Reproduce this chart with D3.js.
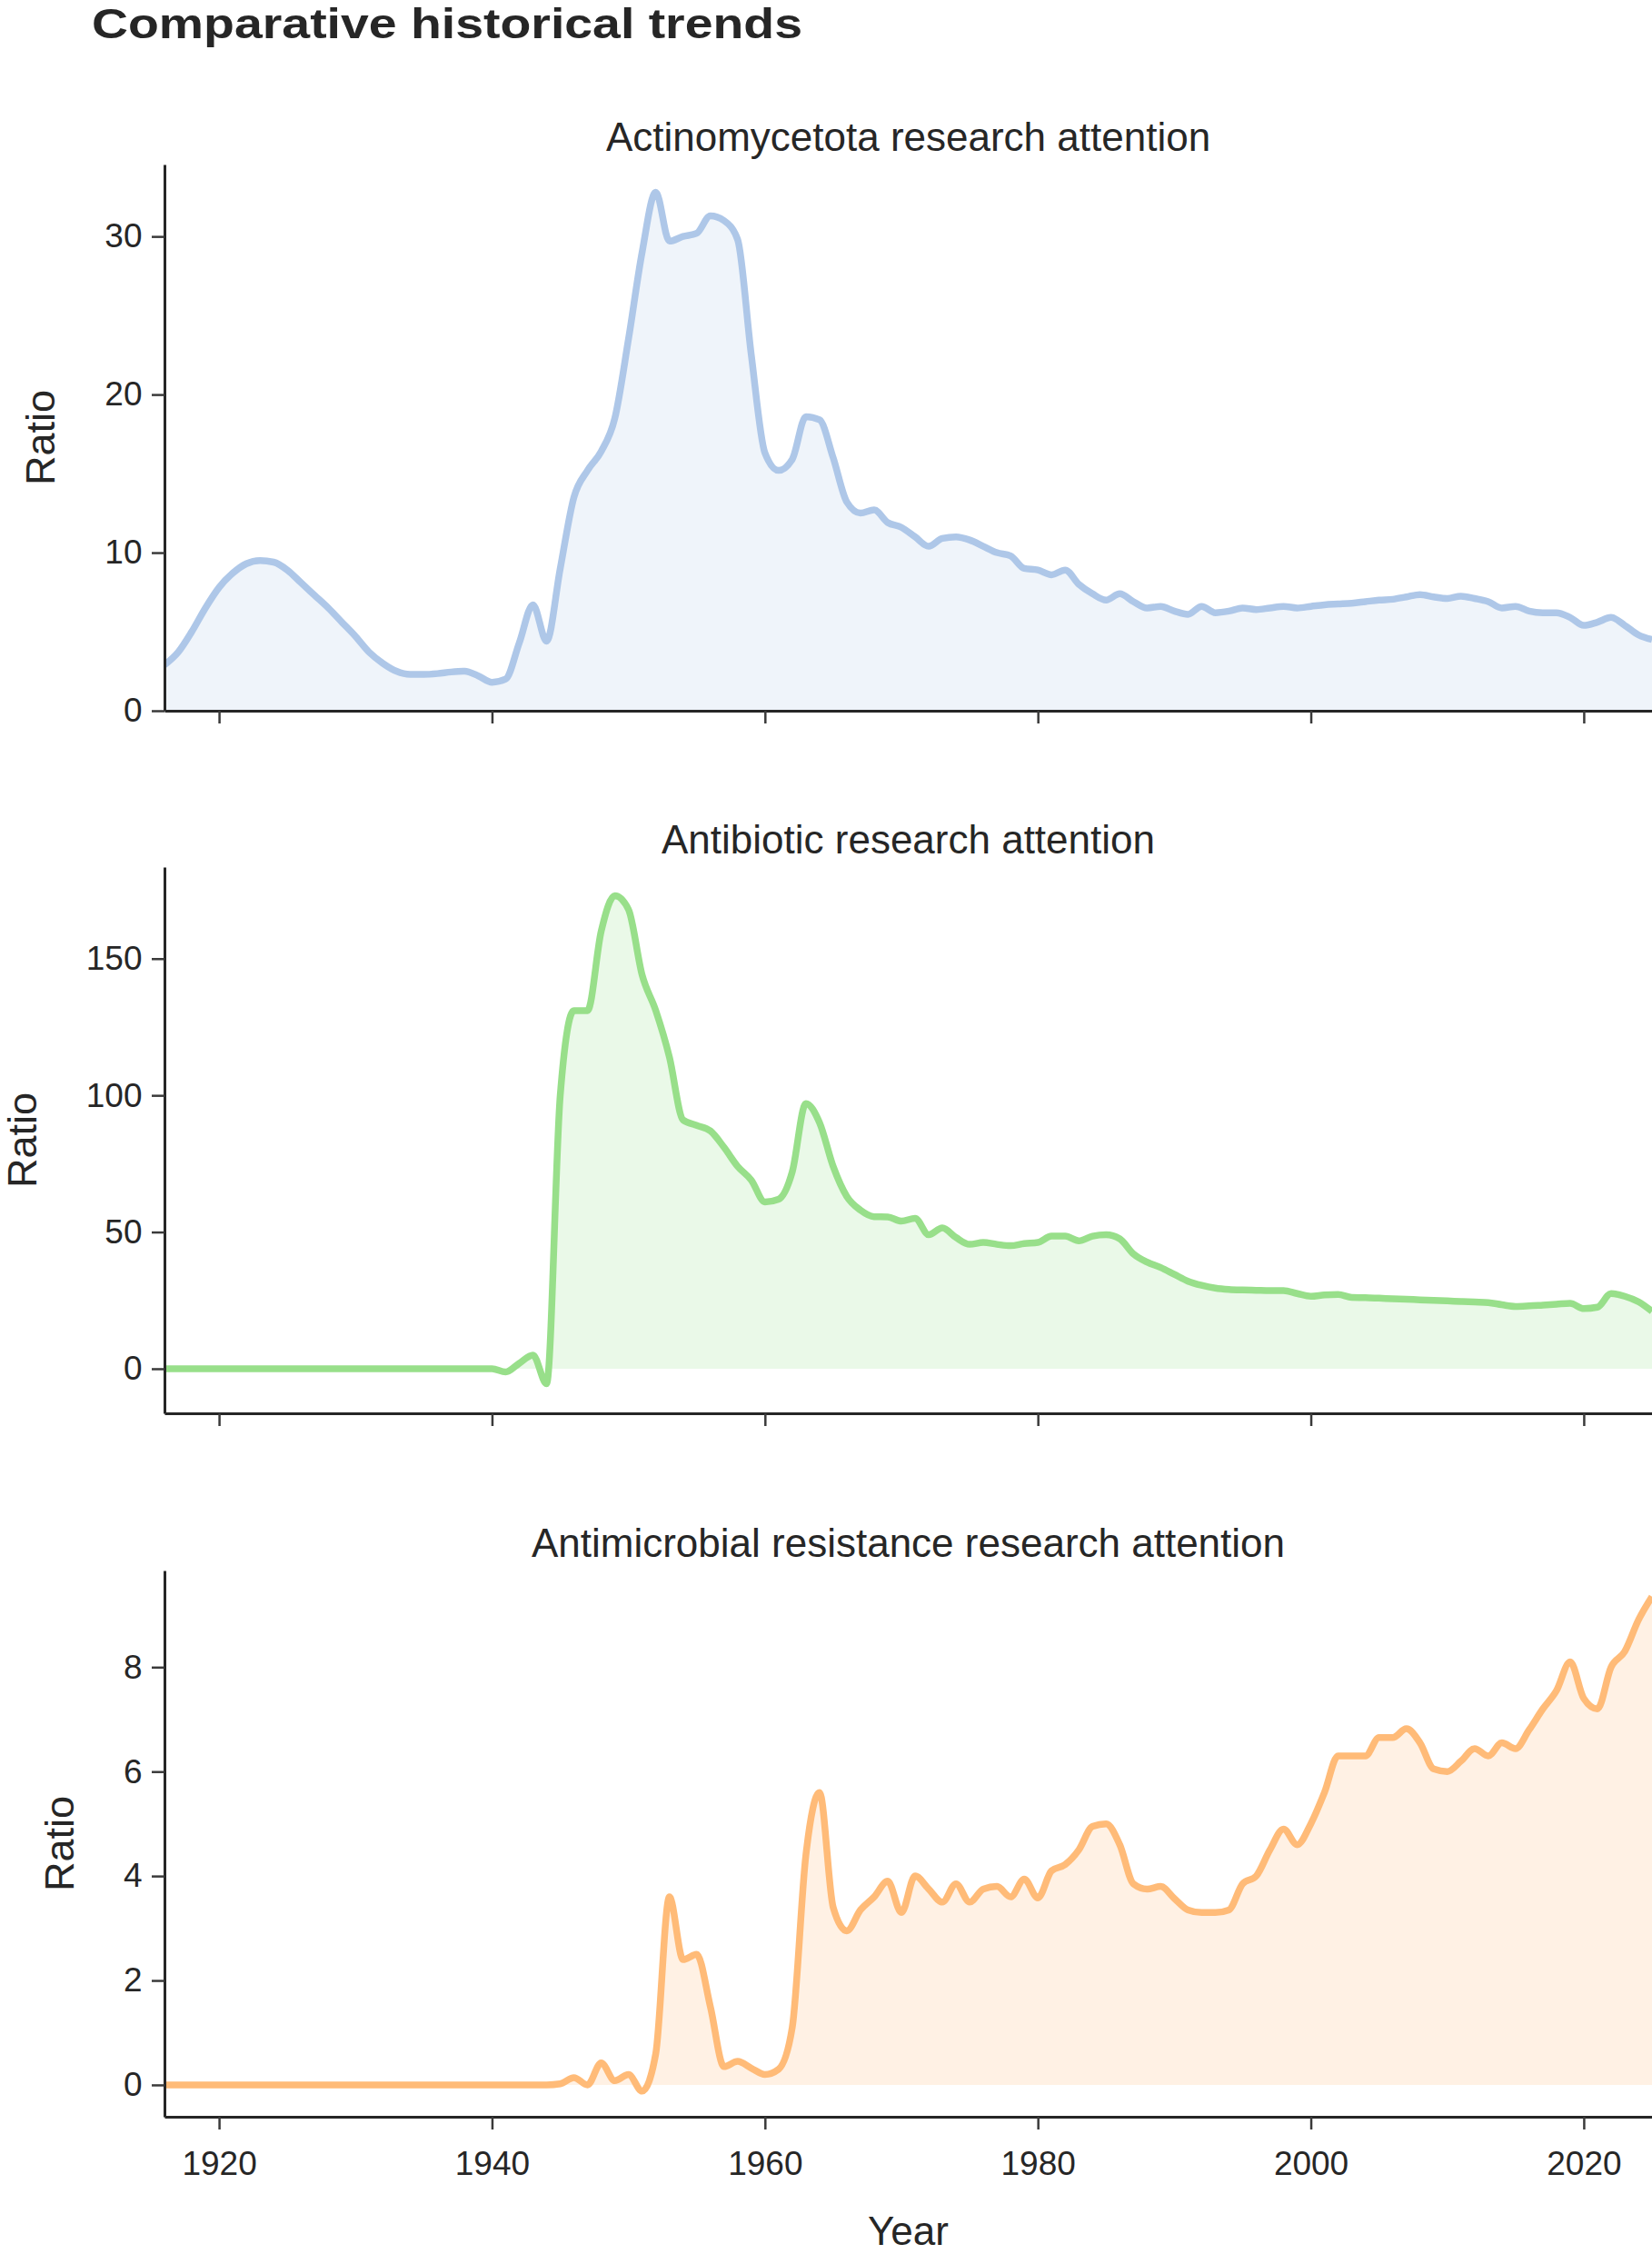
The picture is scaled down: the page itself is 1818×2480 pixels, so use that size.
<!DOCTYPE html>
<html>
<head>
<meta charset="utf-8">
<script src="https://cdn.jsdelivr.net/npm/d3@7"></script>
<style>
    body{margin:0;background:#fff;}
    svg text{font-family:"Liberation Sans",Arial,Helvetica,sans-serif;fill:#262626;}
</style>
</head>
<body>
<svg id="chart" width="1818" height="2480"></svg>
<script>
// ---- data ----
var firstYear=1916, lastYear=2025;
var years=d3.range(firstYear,lastYear+1);

var actinoValues=[
    2.9,3.7,5.0,6.5,
    7.8,8.7,9.3,9.5,9.4,8.9,8.1,7.3,6.5,5.6,
    4.7,3.7,3.0,2.5,2.3,2.3,2.35,2.45,2.5,2.2,
    1.8,2.0,4.3,6.7,4.4,9.0,13.5,15.2,16.4,18.5,
    23.5,29.0,32.8,29.7,30.0,30.2,31.3,31.0,29.8,22.5,
    16.3,15.2,15.9,18.6,18.4,16.0,13.2,12.5,12.7,11.9,
    11.6,11.0,10.4,10.9,11.0,10.8,10.4,10.0,9.8,9.0,
    8.9,8.6,8.9,8.0,7.4,7.0,7.4,6.9,6.5,6.6,
    6.3,6.1,6.6,6.2,6.3,6.5,6.4,6.5,6.6,6.5,
    6.6,6.7,6.75,6.8,6.9,7.0,7.05,7.2,7.35,7.2,
    7.1,7.25,7.1,6.9,6.5,6.6,6.3,6.2,6.2,5.9,
    5.4,5.6,5.9,5.4,4.8,4.5
];
var antibioticValues=[
    0,0,0,0,
    0,0,0,0,0,0,0,0,0,0,
    0,0,0,0,0,0,0,0,0,0,
    0,-1.2,2.0,5.0,-5.5,100,131,131,160,173,
    168,144,131,114,91,89,87,81,74,69,
    61,62,72,97,90,74,63,58,55.6,55.5,
    54,55,49,51.5,48,45.5,46.2,45.5,45,45.8,
    46.2,48.5,48.5,46.8,48.5,49,47.5,42,39,37,
    34.5,32,30.5,29.5,29,28.8,28.7,28.6,28.6,27.5,
    26.5,27,27.2,26.1,26,25.8,25.6,25.4,25.2,25,
    24.8,24.6,24.4,24.2,23.4,22.8,23,23.3,23.6,23.9,
    22,22.5,27.5,26.5,24.5,21
];
var amrValues=[
    0,0,0,0,
    0,0,0,0,0,0,0,0,0,0,
    0,0,0,0,0,0,0,0,0,0,
    0,0,0,0,0,0.02,0.14,0.0,0.42,0.08,
    0.2,-0.12,0.6,3.6,2.4,2.5,1.5,0.35,0.45,0.32,
    0.2,0.3,1.1,4.4,5.6,3.4,2.95,3.35,3.6,3.9,
    3.3,4.0,3.75,3.5,3.85,3.5,3.75,3.8,3.6,3.94,
    3.58,4.1,4.22,4.5,4.95,5.0,4.6,3.85,3.75,3.8,
    3.57,3.35,3.3,3.3,3.35,3.85,4.0,4.5,4.9,4.6,
    5.0,5.6,6.3,6.3,6.3,6.65,6.65,6.82,6.55,6.05,
    6.0,6.2,6.44,6.3,6.55,6.44,6.8,7.2,7.55,8.1,
    7.4,7.2,8.0,8.3,8.9,9.35
];

var panelTitles=["Actinomycetota research attention","Antibiotic research attention","Antimicrobial resistance research attention"];
var seriesValues=[actinoValues,antibioticValues,amrValues];
var yTickValues=[[0,10,20,30],[0,50,100,150],[0,2,4,6,8]];
var yDomains=[[0,34.55],[-16.3,183.5],[-0.61,9.85]];
var xTickValues=[1920,1940,1960,1980,2000,2020];
var lineColors=["#aec7e8","#98df8a","#ffbb78"];

function chart(){
    var svg=d3.select("#chart");
    var left=181, right=1818, panelH=601;
    var panelTops=[181,954,1728];
    var textColor="#262626";

    // figure title
    svg.append("text")
        .attr("x",101)
        .attr("y",42)
        .attr("font-size","46px")
        .attr("font-weight","bold")
        .attr("textLength",782)
        .attr("lengthAdjust","spacingAndGlyphs")
        .text("Comparative historical trends");

    var xScale=d3.scaleLinear().domain([firstYear,lastYear]).range([left,right]);
    var defs=svg.append("defs");

    seriesValues.forEach(function(values,i){
        var top=panelTops[i], bottom=top+panelH;
        var yScale=d3.scaleLinear().domain(yDomains[i]).range([bottom,top]);
        var data=years.map(function(yr,j){return {year:yr,value:values[j]};});
        var g=svg.append("g");

        // clip regions: whole plot, and only above the zero line for the fill
        defs.append("clipPath").attr("id","plot"+i)
            .append("rect").attr("x",left).attr("y",top-10)
            .attr("width",right-left).attr("height",panelH+10);
        defs.append("clipPath").attr("id","above"+i)
            .append("rect").attr("x",left).attr("y",top)
            .attr("width",right-left).attr("height",yScale(0)-top);

        var area=d3.area()
            .x(function(d){return xScale(d.year);})
            .y0(yScale(0))
            .y1(function(d){return yScale(d.value);})
            .curve(d3.curveMonotoneX);
        var line=d3.line()
            .x(function(d){return xScale(d.year);})
            .y(function(d){return yScale(d.value);})
            .curve(d3.curveMonotoneX);

        g.append("path").datum(data)
            .attr("clip-path","url(#above"+i+")")
            .attr("fill",lineColors[i])
            .attr("fill-opacity",0.2)
            .attr("d",area);
        g.append("path").datum(data)
            .attr("clip-path","url(#plot"+i+")")
            .attr("fill","none")
            .attr("stroke",lineColors[i])
            .attr("stroke-width",7.5)
            .attr("stroke-linejoin","round")
            .attr("d",line);

        // y axis
        var yAxis=g.append("g")
            .attr("transform","translate("+left+",0)")
            .call(d3.axisLeft(yScale).tickValues(yTickValues[i])
                .tickSize(14).tickSizeOuter(0).tickPadding(10.5)
                .tickFormat(d3.format("d")));
        // x axis, labels only on the last panel
        var isLast=(i===seriesValues.length-1);
        var xAxis=g.append("g")
            .attr("transform","translate(0,"+bottom+")")
            .call(d3.axisBottom(xScale).tickValues(xTickValues)
                .tickSize(14).tickSizeOuter(0).tickPadding(24)
                .tickFormat(isLast?d3.format("d"):function(){return "";}));

        [yAxis,xAxis].forEach(function(ax){
            ax.attr("font-size",37).attr("font-family",null);
            ax.select(".domain").attr("stroke",textColor).attr("stroke-width",3);
            ax.selectAll(".tick line").attr("stroke","#3a3a3a").attr("stroke-width",2.5);
            ax.selectAll(".tick text").attr("fill",textColor);
        });

        // panel title
        g.append("text")
            .attr("x",(left+right)/2)
            .attr("y",top-15.5)
            .attr("text-anchor","middle")
            .attr("font-size","44px")
            .text(panelTitles[i]);

        // y label, placed left of the widest tick label
        var labelsLeft=left+yAxis.node().getBBox().x;
        g.append("text")
            .attr("transform","translate("+(labelsLeft-55)+","+((top+bottom)/2)+") rotate(-90)")
            .attr("text-anchor","middle")
            .attr("font-size","45px")
            .text("Ratio");
    });

    // x label
    svg.append("text")
        .attr("x",(left+right)/2)
        .attr("y",2470)
        .attr("text-anchor","middle")
        .attr("font-size","44px")
        .text("Year");
}
chart();
</script>
</body>
</html>
